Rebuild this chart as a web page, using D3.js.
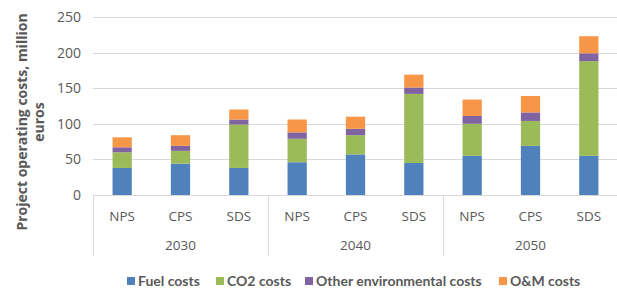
<!DOCTYPE html>
<html>
<head>
<meta charset="utf-8">
<script src="https://cdn.jsdelivr.net/npm/d3@7"></script>
<style>
  body { margin: 0; background: #ffffff; }
  text { font-family: "Open Sans", sans-serif; fill: #595959; }
</style>
</head>
<body>
<div id="chart"></div>
<script>
const w = 617;
const h = 288;

// Data
const years = ["2030", "2040", "2050"];
const scenarios = ["NPS", "CPS", "SDS"];
const seriesNames = ["Fuel costs", "CO2 costs", "Other environmental costs", "O&M costs"];
const seriesColors = ["#4f81bd", "#9bbb59", "#8064a2", "#f79646"];
const fuelCosts = [38, 44, 38, 46, 57, 45, 55, 69, 55];
const co2Costs = [22, 18, 61, 33, 27, 97, 45, 35, 133];
const otherEnvCosts = [7, 7, 7, 9, 9, 9, 11, 12, 11];
const omCosts = [14, 15, 14, 18, 17, 18, 23, 23, 24];
const yTicks = [0, 50, 100, 150, 200, 250];

let rows = [];
years.forEach((yr, i) => {
    scenarios.forEach((sc, j) => {
        let k = i * scenarios.length + j;
        rows.push({year: yr, scenario: sc, key: yr + "-" + sc,
            s0: fuelCosts[k], s1: co2Costs[k], s2: otherEnvCosts[k], s3: omCosts[k]});
    });
});

let svg = d3.select("div#chart").append("svg")
    .attr("width", w).attr("height", h)
    .style("background-color", "#ffffff");

const plotLeft = 93, plotRight = 618, plotTop = 17, plotBottom = 195;

let x = d3.scaleBand().domain(rows.map(d => d.key)).range([plotLeft, plotRight]).paddingInner(0.67).paddingOuter(0.335);
let xGroup = d3.scaleBand().domain(years).range([plotLeft, plotRight]);
let y = d3.scaleLinear().domain([0, 250]).range([plotBottom, plotTop]);

// gridlines
svg.append("g").selectAll("line")
    .data(yTicks.filter(t => t > 0))
    .join("line")
    .attr("x1", plotLeft).attr("x2", plotRight)
    .attr("y1", d => Math.round(y(d)) + 0.5).attr("y2", d => Math.round(y(d)) + 0.5)
    .style("stroke", "#d9d9d9").style("stroke-width", 1);

// tick labels
svg.append("g").selectAll("text")
    .data(yTicks)
    .join("text")
    .attr("x", 81).attr("y", d => y(d))
    .attr("dy", "0.35em")
    .attr("text-anchor", "end")
    .style("font-size", "14px")
    .text(d => d);

// stacked bars
let stack = d3.stack().keys(["s0", "s1", "s2", "s3"]);
let layers = stack(rows);

svg.append("g").selectAll("g")
    .data(layers)
    .join("g")
    .attr("fill", (d, i) => seriesColors[i])
    .selectAll("rect")
    .data(d => d)
    .join("rect")
    .attr("x", d => x(d.data.key))
    .attr("width", x.bandwidth())
    .attr("y", d => y(d[1]))
    .attr("height", d => y(d[0]) - y(d[1]));

// x axis line and group dividers
svg.append("line")
    .attr("x1", plotLeft).attr("x2", plotRight)
    .attr("y1", plotBottom + 0.5).attr("y2", plotBottom + 0.5)
    .style("stroke", "#d9d9d9");

svg.append("g").selectAll("line")
    .data(years.concat(["end"]))
    .join("line")
    .attr("x1", (d, i) => Math.round(plotLeft + i * xGroup.bandwidth()) + 0.5)
    .attr("x2", (d, i) => Math.round(plotLeft + i * xGroup.bandwidth()) + 0.5)
    .attr("y1", plotBottom).attr("y2", 256)
    .style("stroke", "#d9d9d9");

// scenario labels
svg.append("g").selectAll("text")
    .data(rows)
    .join("text")
    .attr("x", d => x(d.key) + x.bandwidth() / 2)
    .attr("y", 216)
    .attr("dy", "0.35em")
    .attr("text-anchor", "middle")
    .style("font-size", "13.5px")
    .text(d => d.scenario);

// year labels
svg.append("g").selectAll("text")
    .data(years)
    .join("text")
    .attr("x", d => xGroup(d) + xGroup.bandwidth() / 2)
    .attr("y", 245)
    .attr("dy", "0.35em")
    .attr("text-anchor", "middle")
    .style("font-size", "13.5px")
    .text(d => d);

// y axis title
let title = svg.append("text")
    .attr("transform", "translate(31,122) rotate(-90)")
    .attr("text-anchor", "middle")
    .style("font-size", "14px")
    .style("font-weight", "bold");
title.append("tspan").attr("x", 0).attr("dy", "-0.3em").text("Project operating costs, million");
title.append("tspan").attr("x", 0).attr("dy", "1.25em").text("euros");

// legend
const legendX = [127, 216, 305, 499];
let legend = svg.append("g").selectAll("g")
    .data(seriesNames)
    .join("g")
    .attr("transform", (d, i) => "translate(" + legendX[i] + ",281)");
legend.append("rect")
    .attr("x", 0).attr("y", -4).attr("width", 8).attr("height", 8)
    .attr("fill", (d, i) => seriesColors[i]);
legend.append("text")
    .attr("x", 11).attr("dy", "0.35em")
    .style("font-family", "Lato, sans-serif")
    .style("font-size", "14px")
    .style("font-weight", "bold")
    .text(d => d);
</script>
</body>
</html>
